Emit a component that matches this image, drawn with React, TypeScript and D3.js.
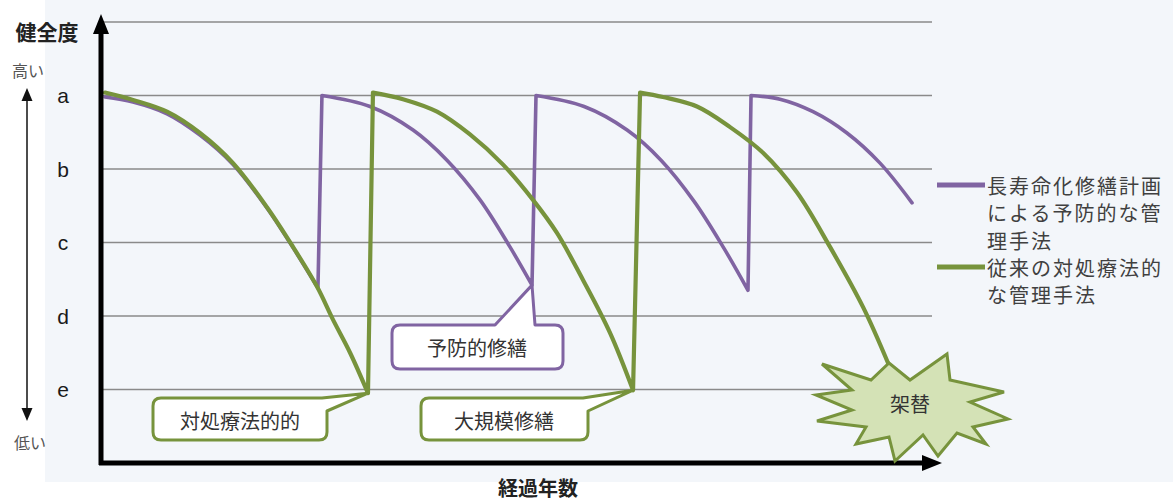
import React from "react";
import * as d3 from "d3";

// ---- data (x: elapsed years, y: health level e=1 ... a=5, top grid = 6) ----
const levelLabels = ["a", "b", "c", "d", "e"];
const levelValues = [5, 4, 3, 2, 1];
const gridValues = [1, 2, 3, 4, 5, 6];

const preventiveYears = [0, 2.03, 4.5, 6.89, 9.29, 11.75, 13.64, 15.45, 15.74, 19.23, 22.35, 24.81, 27.21, 29.38, 30.98, 31.27, 34.76, 37.88, 40.34, 42.74, 44.91, 46.65, 46.87, 48.97, 51.37, 53.83, 56.23, 58.55];
const preventiveHealth = [4.98, 4.91, 4.75, 4.46, 4.06, 3.47, 2.93, 2.38, 5.0, 4.85, 4.53, 4.12, 3.58, 2.94, 2.42, 5.0, 4.85, 4.53, 4.12, 3.56, 2.92, 2.35, 5.0, 4.95, 4.78, 4.49, 4.08, 3.54];

const reactiveYears = [0, 2.03, 4.5, 6.89, 9.29, 11.75, 13.64, 15.38, 16.54, 17.78, 19.08, 19.44, 21.62, 24.09, 26.48, 28.88, 31.05, 32.79, 34.68, 36.64, 38.31, 38.82, 40.48, 42.95, 45.35, 47.74, 50.21, 52.6, 55.0, 56.81];
const reactiveHealth = [5.04, 4.94, 4.78, 4.49, 4.08, 3.48, 2.94, 2.4, 1.95, 1.5, 0.95, 5.04, 4.95, 4.78, 4.47, 4.06, 3.58, 3.13, 2.49, 1.77, 0.99, 5.04, 4.98, 4.85, 4.57, 4.22, 3.68, 2.94, 2.12, 1.36];

const legendPreventive = ["長寿命化修繕計画", "による予防的な管", "理手法"];
const legendReactive = ["従来の対処療法的", "な管理手法"];

const PURPLE = "#8064a2";
const GREEN = "#77933c";
const JP = "'Noto Sans CJK JP', 'Noto Sans', sans-serif";

type P = [number, number];

export default function App() {
  const W = 1173;
  const H = 501;
  const x = d3.scaleLinear().domain([0, 60]).range([105, 932]);
  const y = d3.scaleLinear().domain([1, 6]).range([389.5, 22]);

  const smooth = d3
    .line<P>()
    .x((d) => x(d[0]))
    .y((d) => y(d[1]))
    .curve(d3.curveCatmullRom.alpha(0.5));

  // split series into decay cycles at the repair jumps, smooth each, join with straight jumps
  const buildPath = (xs: number[], vs: number[]) => {
    const cycles: P[][] = [];
    let cur: P[] = [];
    xs.forEach((t, i) => {
      if (i > 0 && vs[i] > vs[i - 1] + 0.5) {
        cycles.push(cur);
        cur = [];
      }
      cur.push([t, vs[i]]);
    });
    cycles.push(cur);
    return cycles
      .map((c, k) => {
        const s = smooth(c) || "";
        return k === 0 ? s : "L" + s.slice(1);
      })
      .join("");
  };

  const purplePath = buildPath(preventiveYears, preventiveHealth);
  const greenPath = buildPath(reactiveYears, reactiveHealth);

  // callout tips tied to data points
  const tip1: P = [x(reactiveYears[10]), y(reactiveHealth[10])];
  const tip2: P = [x(reactiveYears[20]), y(reactiveHealth[20])];
  const tip3: P = [x(preventiveYears[14]), y(preventiveHealth[14])];

  const star: P[] = [
    [889, 363], [910, 380], [947, 354], [950, 380], [1004, 392], [970, 402],
    [1008, 419], [973, 427], [986, 444], [957, 433], [938, 456], [923, 435],
    [895, 461], [889, 437], [856, 444], [866, 427], [817, 421], [852, 410],
    [816, 395], [852, 390], [822, 364], [871, 380],
  ];

  return (
    <svg
      width={W}
      height={H}
      viewBox={`0 0 ${W} ${H}`}
      style={{ position: "absolute", left: 0, top: 0, display: "block" }}
    >
      <rect x={0} y={0} width={W} height={H} fill="#ffffff" />
      <rect x={45} y={0} width={W - 45} height={482} fill="#f3f6fa" />

      {/* grid lines */}
      {gridValues.map((v) => (
        <line key={v} x1={103} x2={932} y1={y(v)} y2={y(v)} stroke="#8a8a8a" strokeWidth={1.6} />
      ))}

      {/* level labels */}
      {levelLabels.map((l, i) => (
        <text
          key={l}
          x={63}
          y={y(levelValues[i])}
          textAnchor="middle"
          dominantBaseline="central"
          fontFamily="'Liberation Sans', Arial, sans-serif"
          fontSize={21}
          fill="#1a1a1a"
        >
          {l}
        </text>
      ))}

      {/* axis titles */}
      <text x={47} y={31} textAnchor="middle" dominantBaseline="central" fontFamily={JP} fontWeight="bold" fontSize={21} fill="#222">
        健全度
      </text>
      <text x={28} y={70} textAnchor="middle" dominantBaseline="central" fontFamily={JP} fontSize={16} fill="#555">
        高い
      </text>
      <text x={30} y={442} textAnchor="middle" dominantBaseline="central" fontFamily={JP} fontSize={16} fill="#555">
        低い
      </text>
      <text x={538} y={487} textAnchor="middle" dominantBaseline="central" fontFamily={JP} fontWeight="bold" fontSize={20} fill="#222">
        経過年数
      </text>

      {/* high-low arrow */}
      <line x1={27} x2={27} y1={98} y2={410} stroke="#111" strokeWidth={1.5} />
      <polygon points="27,88 21.5,101 32.5,101" fill="#111" />
      <polygon points="27,421 21.5,408 32.5,408" fill="#111" />

      {/* series lines */}
      <path d={purplePath} fill="none" stroke={PURPLE} strokeWidth={3.6} strokeLinejoin="round" strokeLinecap="round" />
      <path d={greenPath} fill="none" stroke={GREEN} strokeWidth={4.2} strokeLinejoin="round" strokeLinecap="round" />

      {/* axes */}
      <line x1={101} x2={101} y1={465} y2={30} stroke="#000" strokeWidth={5} />
      <polygon points="101,14 93,34 109,34" fill="#000" />
      <line x1={99} x2={926} y1={463} y2={463} stroke="#000" strokeWidth={5} />
      <polygon points="942,463 922,455 922,471" fill="#000" />

      {/* callouts */}
      <path
        d={`M161,398 H322 L${tip1[0]},${tip1[1]} L327,411 V432 Q327,440 319,440 H161 Q153,440 153,432 V406 Q153,398 161,398 Z`}
        fill="#fff"
        stroke={GREEN}
        strokeWidth={3}
        strokeLinejoin="round"
      />
      <text x={240} y={420} textAnchor="middle" dominantBaseline="central" fontFamily={JP} fontSize={20} fill="#333">
        対処療法的的
      </text>

      <path
        d={`M429,398 H583 L${tip2[0]},${tip2[1]} L588,411 V432 Q588,440 580,440 H429 Q421,440 421,432 V406 Q421,398 429,398 Z`}
        fill="#fff"
        stroke={GREEN}
        strokeWidth={3}
        strokeLinejoin="round"
      />
      <text x={504} y={420} textAnchor="middle" dominantBaseline="central" fontFamily={JP} fontSize={20} fill="#333">
        大規模修繕
      </text>

      <path
        d={`M400,325 H495 L${tip3[0]},${tip3[1]} L535,325 H555 Q563,325 563,333 V361 Q563,369 555,369 H400 Q392,369 392,361 V333 Q392,325 400,325 Z`}
        fill="#fff"
        stroke={PURPLE}
        strokeWidth={3}
        strokeLinejoin="round"
      />
      <text x={477} y={347} textAnchor="middle" dominantBaseline="central" fontFamily={JP} fontSize={20} fill="#333">
        予防的修繕
      </text>

      {/* starburst */}
      <polygon points={star.map((p) => p.join(",")).join(" ")} fill="#d4e2b6" stroke={GREEN} strokeWidth={3} strokeLinejoin="miter" />
      <text x={910} y={403} textAnchor="middle" dominantBaseline="central" fontFamily={JP} fontSize={20} fill="#333">
        架替
      </text>

      {/* legend */}
      <line x1={937} x2={985} y1={185} y2={185} stroke={PURPLE} strokeWidth={5} />
      {legendPreventive.map((t, i) => (
        <text key={t} x={987} y={185 + i * 27.5} dominantBaseline="central" fontFamily={JP} fontSize={20} letterSpacing={2} fill="#404040">
          {t}
        </text>
      ))}
      <line x1={937} x2={985} y1={267} y2={267} stroke={GREEN} strokeWidth={5} />
      {legendReactive.map((t, i) => (
        <text key={t} x={987} y={267 + i * 27} dominantBaseline="central" fontFamily={JP} fontSize={20} letterSpacing={2} fill="#404040">
          {t}
        </text>
      ))}
    </svg>
  );
}
